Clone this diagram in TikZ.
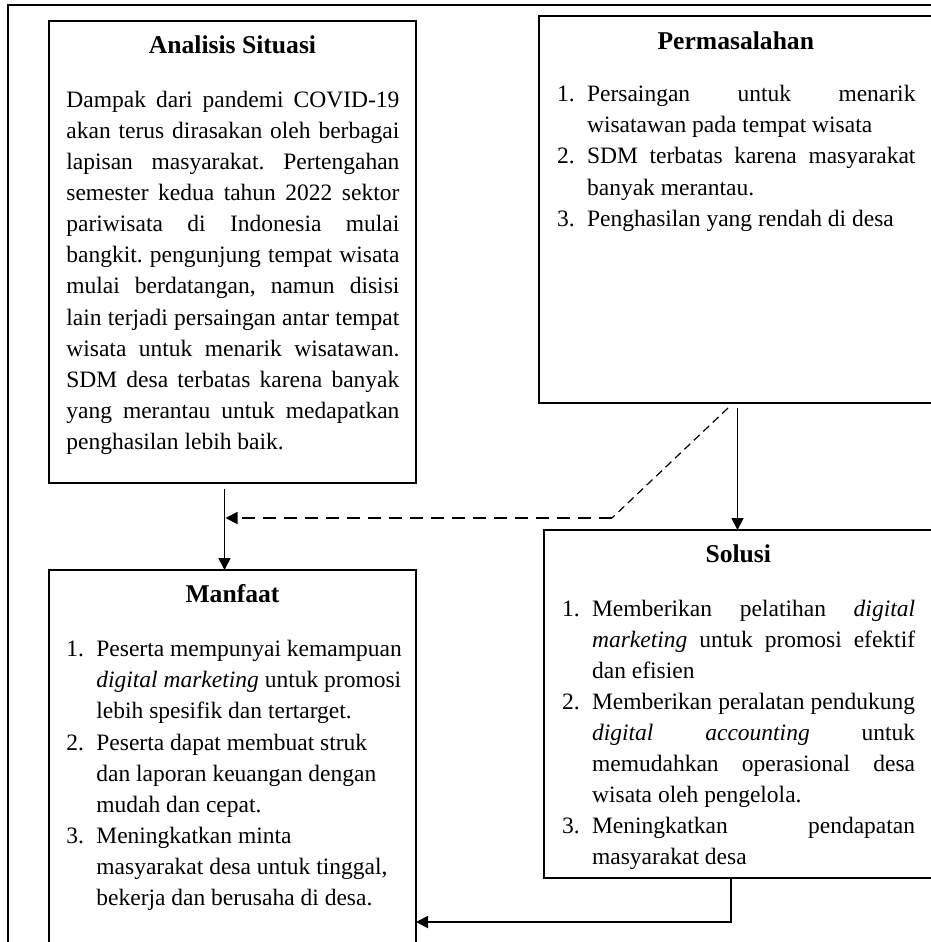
\documentclass[tikz,border=0pt]{standalone}
\usepackage{fontspec}
\setmainfont{Liberation Serif}
\usetikzlibrary{arrows.meta,calc}
\frenchspacing
\hyphenpenalty=10000
\exhyphenpenalty=10000
\tolerance=10000
\tikzset{
  boxshape/.style={draw, line width=0.65pt, rectangle, inner sep=0pt, outer sep=0pt, anchor=north west},
  titletext/.style={anchor=base, inner sep=0pt, font=\fontsize{12.8pt}{15pt}\selectfont\bfseries},
  bodytext/.style={anchor=base west, inner sep=0pt, align=justify, font=\fontsize{11.75pt}{15.55pt}\selectfont},
  conn/.style={line width=0.9pt, -{Triangle[length=6pt,width=6pt]}},
  thindash/.style={line width=0.6pt, dash pattern=on 4pt off 2.5pt},
  thickdash/.style={line width=0.9pt, dash pattern=on 6.5pt off 4pt, -{Triangle[length=6pt,width=6pt]}},
  frameline/.style={line width=0.8pt},
}
\newcommand{\lstitem}[2]{\noindent\hangindent=15pt\hangafter=1\makebox[15pt][l]{#1}#2\par}
\begin{document}
\begin{tikzpicture}[x=0.5pt,y=-0.5pt]
\useasboundingbox (0,0) rectangle (931,942);
\clip (0,0) rectangle (931,942);
\fill[white] (0,0) rectangle (931,942);
% outer frame
\draw[frameline] (8,980) -- (8,5) -- (980,5);
% boxes
\node[boxshape, minimum width=183.5pt, minimum height=231pt] (ana) at (49,21) {};
\node[boxshape, minimum width=203pt, minimum height=193.5pt] (perm) at (539,16) {};
\node[boxshape, minimum width=200.5pt, minimum height=174pt] (sol) at (544,530) {};
\node[boxshape, minimum width=183.5pt, minimum height=200pt] (man) at (49,570) {};
% titles
\node[titletext] (anat) at ($(ana.north west)+(183.5,32.3)$) {Analisis Situasi};
\node[titletext] (permt) at ($(perm.north west)+(196.8,33.3)$) {Permasalahan};
\node[titletext] (mant) at ($(man.north west)+(183.5,32.7)$) {Manfaat};
\node[titletext] (solt) at ($(sol.north west)+(194.3,32.7)$) {Solusi};
% bodies
\node[bodytext, text width=166.5pt] (anab) at ($(ana.north west)+(17,86.3)$) {%
\noindent Dampak dari pandemi COVID-19\linebreak akan terus dirasakan oleh berbagai\linebreak lapisan masyarakat. Pertengahan\linebreak semester kedua tahun 2022 sektor\linebreak pariwisata di Indonesia mulai\linebreak bangkit. pengunjung tempat wisata\linebreak mulai berdatangan, namun disisi\linebreak lain terjadi persaingan antar tempat\linebreak wisata untuk menarik wisatawan.\linebreak SDM desa terbatas karena banyak\linebreak yang merantau untuk medapatkan\linebreak penghasilan lebih baik.\par};
\node[bodytext, text width=179.2pt] (permb) at ($(perm.north west)+(17.7,85.7)$) {%
\lstitem{1.}{Persaingan untuk menarik\linebreak wisatawan pada tempat wisata}%
\lstitem{2.}{SDM terbatas karena masyarakat\linebreak banyak merantau.}%
\lstitem{3.}{Penghasilan yang rendah di desa}};
\node[bodytext, text width=176.5pt] (solb) at ($(sol.north west)+(17.7,86)$) {%
\lstitem{1.}{Memberikan pelatihan \textit{digital}\linebreak \textit{marketing} untuk promosi efektif\linebreak dan efisien}%
\lstitem{2.}{Memberikan peralatan pendukung\linebreak \textit{digital accounting} untuk\linebreak memudahkan operasional desa\linebreak wisata oleh pengelola.}%
\lstitem{3.}{Meningkatkan pendapatan\linebreak masyarakat desa}};
\node[bodytext, text width=175pt] (manb) at ($(man.north west)+(17,86.7)$) {%
\lstitem{1.}{Peserta mempunyai kemampuan\newline \textit{digital marketing} untuk promosi\newline lebih spesifik dan tertarget.}%
\lstitem{2.}{Peserta dapat membuat struk\newline dan laporan keuangan dengan\newline mudah dan cepat.}%
\lstitem{3.}{Meningkatkan minta\newline masyarakat desa untuk tinggal,\newline bekerja dan berusaha di desa.}};
% connectors
\draw[conn] ($(ana.south west)+(175.5,6)$) -- ($(man.north west)+(175.5,0)$);
\coordinate (j) at ($(ana.south west)+(176.5,37)$);
\draw[conn] ($(perm.south west)+(198.5,5)$) -- ($(sol.north west)+(193.5,0)$);
\coordinate (d1) at ($(perm.south west)+(73,115)$);
\draw[thindash] ($(perm.south west)+(189,5)$) -- (d1);
\draw[thickdash] (d1) -- (d1 -| j);
\draw[conn] ($(sol.south west)+(187,0)$) |- ($(man.north east)+(0,352)$);
\end{tikzpicture}
\end{document}
